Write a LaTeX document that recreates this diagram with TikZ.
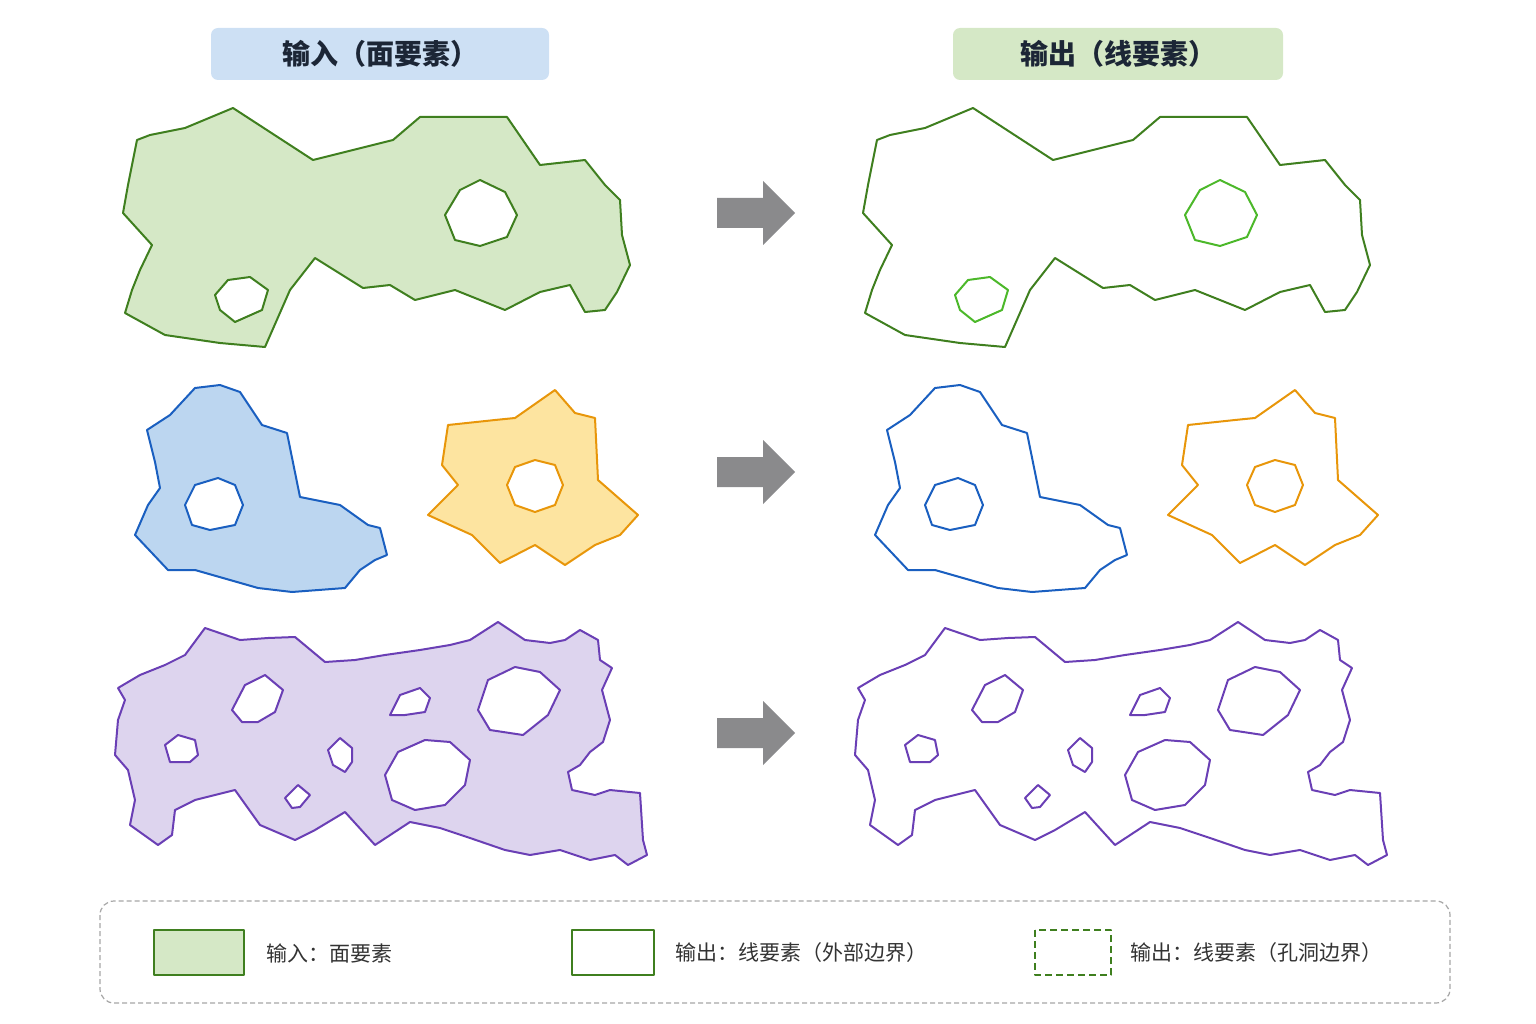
\documentclass[tikz,border=0pt]{standalone}
\usepackage{fontspec}
\setmainfont{Noto Sans CJK SC}
\begin{document}
\begin{tikzpicture}[x=1pt,y=-1pt,line join=round,
  lab/.style={font=\fontsize{21}{21}\selectfont, text=black!80, anchor=west}]
\definecolor{gF}{HTML}{D5E8C6}\definecolor{gD}{HTML}{3F7F1F}\definecolor{gH}{HTML}{4CB82A}
\definecolor{bF}{HTML}{BCD6F0}\definecolor{bD}{HTML}{1A5FC0}
\definecolor{oF}{HTML}{FDE4A0}\definecolor{oD}{HTML}{E8960A}
\definecolor{pF}{HTML}{DDD4EE}\definecolor{pD}{HTML}{6A3FB5}
\definecolor{arrG}{HTML}{8A8A8C}\definecolor{hT}{HTML}{1C2636}
\useasboundingbox (0,0) rectangle (1536,1024);
\def\GO{(137,140)--(150,135)--(185,128)--(233,108)--(313,160)--(393,140)--(420,117)--(507,117)--(540,165)--(585,160)--(605,185)--(620,200)--(622,235)--(630,265)--(617,292)--(605,310)--(585,312)--(570,285)--(540,292)--(505,310)--(455,290)--(415,300)--(390,285)--(363,288)--(315,258)--(290,290)--(265,347)--(220,343)--(165,335)--(125,313)--(132,290)--(140,270)--(152,245)--(123,213)--(128,185)--cycle}
\def\GHa{(445,215)--(460,190)--(480,180)--(505,192)--(517,215)--(507,237)--(480,246)--(455,240)--cycle}
\def\GHb{(215,295)--(228,280)--(250,277)--(268,290)--(262,310)--(235,322)--(220,310)--cycle}
\def\BO{(147,430)--(170,415)--(195,388)--(220,385)--(240,392)--(262,425)--(287,433)--(300,497)--(340,505)--(368,525)--(380,528)--(387,555)--(375,560)--(360,570)--(345,588)--(292,592)--(258,588)--(195,570)--(168,570)--(135,535)--(148,505)--(160,488)--(155,462)--cycle}
\def\BH{(185,505)--(195,485)--(218,478)--(235,485)--(243,505)--(235,525)--(210,530)--(192,525)--cycle}
\def\OO{(448,425)--(495,420)--(515,418)--(555,390)--(575,413)--(595,418)--(598,480)--(638,515)--(620,535)--(595,545)--(565,565)--(535,545)--(500,563)--(472,535)--(428,515)--(458,485)--(442,465)--cycle}
\def\OH{(507,485)--(515,467)--(535,460)--(555,465)--(563,485)--(555,505)--(535,512)--(515,505)--cycle}
\def\PO{(118,688)--(140,675)--(165,665)--(185,655)--(205,628)--(240,640)--(268,638)--(295,637)--(325,662)--(355,660)--(385,655)--(420,650)--(450,645)--(470,640)--(498,622)--(525,640)--(550,643)--(565,640)--(580,630)--(598,640)--(600,660)--(612,668)--(602,690)--(610,720)--(603,742)--(590,752)--(580,765)--(568,772)--(572,790)--(595,795)--(610,790)--(640,793)--(643,840)--(647,855)--(628,865)--(615,855)--(590,860)--(560,850)--(530,855)--(505,850)--(470,838)--(440,828)--(410,822)--(375,845)--(345,812)--(315,830)--(295,840)--(260,825)--(235,790)--(195,800)--(175,810)--(172,835)--(158,845)--(130,825)--(135,800)--(128,770)--(115,755)--(118,720)--(125,700)--cycle}
\def\PH{(232,710)--(245,685)--(265,675)--(283,690)--(275,712)--(258,722)--(242,722)--cycle
 (165,745)--(178,735)--(195,740)--(198,755)--(190,762)--(170,762)--cycle
 (390,715)--(400,695)--(420,688)--(430,698)--(425,712)--(405,715)--cycle
 (478,710)--(488,680)--(515,667)--(540,672)--(560,690)--(548,715)--(523,735)--(490,730)--cycle
 (328,750)--(340,738)--(352,748)--(352,762)--(345,772)--(333,765)--cycle
 (385,775)--(398,752)--(425,740)--(450,742)--(470,760)--(465,785)--(445,805)--(415,810)--(392,800)--cycle
 (285,798)--(298,785)--(310,795)--(300,807)--(292,808)--cycle}
% headers
\node[fill=bF!75!white, rounded corners=7pt, minimum width=338pt, minimum height=52pt, font=\fontsize{28}{28}\selectfont\bfseries, text=hT] (h1) at (380,54) {输入（面要素）};
\node[fill=gF, rounded corners=7pt, minimum width=330pt, minimum height=52pt, font=\fontsize{28}{28}\selectfont\bfseries, text=hT] (h2) at (1118,54) {输出（线要素）};
% inputs
\fill[gF, even odd rule] \GO \GHa \GHb; \draw[gD,line width=2pt] \GO \GHa \GHb;
\fill[bF, even odd rule] \BO \BH; \draw[bD,line width=2pt] \BO \BH;
\fill[oF, even odd rule] \OO \OH; \draw[oD,line width=2pt] \OO \OH;
\fill[pF, even odd rule] \PO \PH; \draw[pD,line width=2pt] \PO \PH;
% outputs
\begin{scope}[xshift=740pt]
\draw[gD,line width=2pt] \GO; \draw[gH,line width=2pt] \GHa \GHb;
\draw[bD,line width=2pt] \BO \BH;
\draw[oD,line width=2pt] \OO \OH;
\draw[pD,line width=2pt] \PO \PH;
\end{scope}
% arrows
\foreach \y in {213,472,733}{
 \fill[arrG] (717,\y-15) -- (763,\y-15) -- (763,\y-32) -- (795,\y) -- (763,\y+32) -- (763,\y+15) -- (717,\y+15) -- cycle;}
% legend
\draw[gray!70, dash pattern=on 5pt off 3pt, line width=1.2pt, rounded corners=14pt] (100,901) rectangle (1450,1003);
\draw[gD, fill=gF, line width=2pt] (154,930) rectangle (244,975);
\node[lab] (l1) at (263,953) {输入：面要素};
\draw[gD, line width=2pt] (572,930) rectangle (654,975);
\node[lab] (l2) at (672,953) {输出：线要素（外部边界）};
\draw[gD, line width=1.6pt, dash pattern=on 7pt off 4pt] (1035,930) rectangle (1111,975);
\node[lab] (l3) at (1127,953) {输出：线要素（孔洞边界）};
\end{tikzpicture}
\end{document}
